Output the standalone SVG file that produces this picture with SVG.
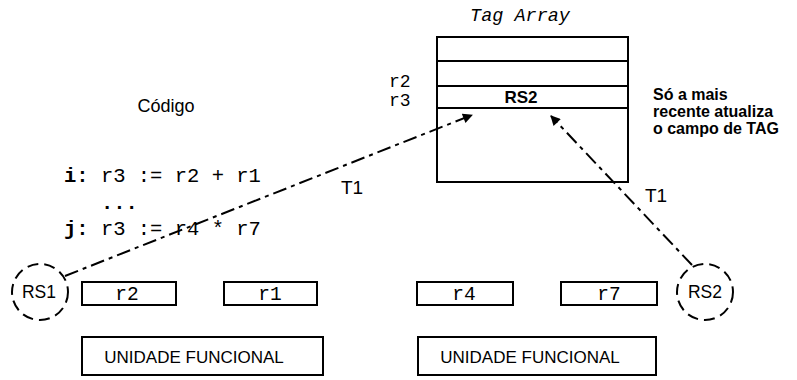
<svg xmlns="http://www.w3.org/2000/svg" width="797" height="380" viewBox="0 0 797 380">
  <defs>
    <marker id="arrow" viewBox="0 0 10 10" refX="9" refY="5" markerWidth="11" markerHeight="10" markerUnits="userSpaceOnUse" orient="auto">
      <path d="M0,0 L10,5 L0,10 z" fill="#000"/>
    </marker>
    <style>
      .box { fill: #fff; stroke: #000; stroke-width: 2; }
      .rs { fill: #fff; stroke: #000; stroke-width: 2; stroke-dasharray: 11 6; }
      .link { fill: none; stroke: #000; stroke-width: 2; stroke-dasharray: 14 5 4 5; }
      .sans { font-family: "Liberation Sans", Arial, sans-serif; fill: #000; }
      .mono { font-family: "Liberation Mono", "Courier New", monospace; fill: #000; }
      .note { font-family: "Liberation Sans", Arial, sans-serif; font-weight: bold; font-size: 16px; fill: #000; }
    </style>
  </defs>

  <!-- tag array table -->
  <g id="tag-array">
    <text class="mono" x="520" y="21" font-size="18.5" font-style="italic" text-anchor="middle">Tag Array</text>
    <rect class="box" x="437" y="37" width="191" height="145"/>
    <line x1="437" y1="61" x2="628" y2="61" stroke="#000" stroke-width="2"/>
    <line x1="437" y1="86" x2="628" y2="86" stroke="#000" stroke-width="2"/>
    <line x1="437" y1="108" x2="628" y2="108" stroke="#000" stroke-width="2"/>
    <text class="sans" x="521" y="103" font-size="17" font-weight="bold" text-anchor="middle">RS2</text>
    <text class="mono" x="389" y="87" font-size="18">r2</text>
    <text class="mono" x="389" y="106" font-size="18">r3</text>
  </g>

  <!-- note -->
  <g id="note">
    <text class="note" x="653" y="100">Só a mais</text>
    <text class="note" x="653" y="117">recente atualiza</text>
    <text class="note" x="653" y="134">o campo de TAG</text>
  </g>

  <!-- code listing -->
  <g id="code">
    <text class="sans" x="166" y="112" font-size="18" text-anchor="middle">Código</text>
    <text class="mono" x="64" y="182" font-size="20.5"><tspan font-weight="bold">i:</tspan> r3 := r2 + r1</text>
    <text class="mono" x="101" y="209" font-size="20.5" font-weight="bold">...</text>
    <text class="mono" x="64" y="235" font-size="20.5"><tspan font-weight="bold">j:</tspan> r3 := r4 * r7</text>
  </g>

  <!-- reservation stations -->
  <g id="rs1">
    <circle class="rs" cx="40" cy="292" r="28"/>
    <text class="sans" x="39" y="298" font-size="17.5" text-anchor="middle">RS1</text>
  </g>
  <g id="rs2">
    <circle class="rs" cx="705" cy="292" r="28"/>
    <text class="sans" x="705" y="298" font-size="17.5" text-anchor="middle">RS2</text>
  </g>

  <!-- operand registers -->
  <g id="reg-r2">
    <rect class="box" x="82" y="282" width="94" height="23"/>
    <text class="mono" x="127" y="300" font-size="19.5" text-anchor="middle">r2</text>
  </g>
  <g id="reg-r1">
    <rect class="box" x="224" y="282" width="93" height="23"/>
    <text class="mono" x="270" y="300" font-size="19.5" text-anchor="middle">r1</text>
  </g>
  <g id="reg-r4">
    <rect class="box" x="417" y="282" width="96" height="23"/>
    <text class="mono" x="464" y="300" font-size="19.5" text-anchor="middle">r4</text>
  </g>
  <g id="reg-r7">
    <rect class="box" x="561" y="282" width="96" height="23"/>
    <text class="mono" x="609" y="300" font-size="19.5" text-anchor="middle">r7</text>
  </g>

  <!-- functional units -->
  <g id="fu-left">
    <rect class="box" x="82" y="337" width="241" height="38"/>
    <text class="sans" x="194" y="363" font-size="17" text-anchor="middle">UNIDADE FUNCIONAL</text>
  </g>
  <g id="fu-right">
    <rect class="box" x="418" y="337" width="238" height="38"/>
    <text class="sans" x="530" y="363" font-size="17" text-anchor="middle">UNIDADE FUNCIONAL</text>
  </g>

  <!-- tag links -->
  <g id="connectors">
    <line class="link" x1="65" y1="276" x2="472" y2="115" marker-end="url(#arrow)"/>
    <line class="link" x1="692" y1="265" x2="551" y2="116" marker-end="url(#arrow)"/>
    <text class="sans" x="341" y="194" font-size="19">T1</text>
    <text class="sans" x="645" y="202" font-size="19">T1</text>
  </g>
</svg>
